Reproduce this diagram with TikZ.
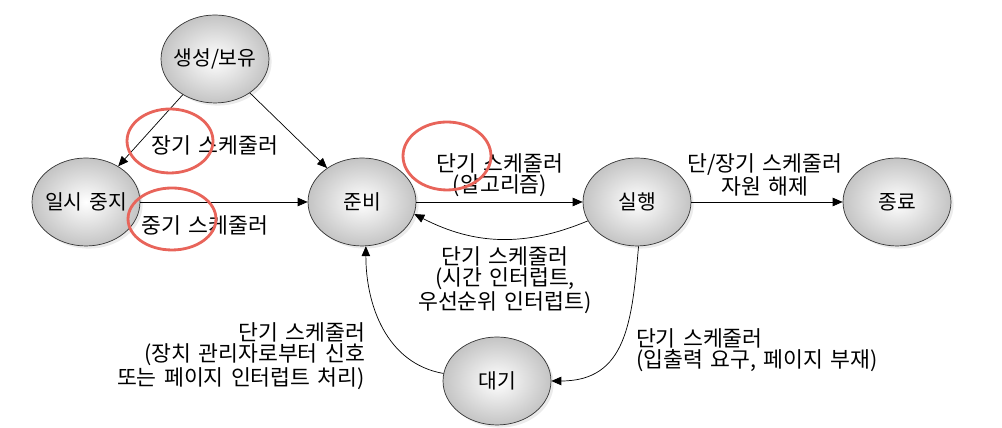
\documentclass[tikz,border=0pt]{standalone}
\usepackage{fontspec}
\setmainfont{Noto Sans CJK KR}
\newfontfamily\lblfont{Noto Sans CJK KR}[WordSpace=1.5]
\usetikzlibrary{positioning,arrows.meta,shapes.geometric,shadows}
\definecolor{HiliteRed}{HTML}{E8645A}
\definecolor{StateGrey}{HTML}{C4C4C4}
\newcommand{\stxt}[1]{\makebox[0pt]{#1}}

\begin{document}
\begin{tikzpicture}[
    x=0.02cm, y=0.02cm,
    font=\lblfont\fontsize{11.6}{12.5}\selectfont,
    state/.style={
      ellipse, draw=black!80, thin, inner sep=0pt,
      inner color=white, outer color=StateGrey,
      minimum width=2.16cm, minimum height=1.76cm,
      drop shadow={shadow xshift=1.5pt, shadow yshift=-1.5pt, fill=gray!35, opacity=0.45}
    },
    lbl/.style={align=center, inner sep=1pt, font=\lblfont\fontsize{12.3}{12.2}\selectfont},
    arrow/.style={-{Triangle[length=2mm,width=1.7mm]}, thin},
    hilite/.style={draw=HiliteRed, line width=1.6pt}
  ]
    \useasboundingbox (0,0) rectangle (1002,428);

    % states
    \node[state] (gen)   at (215,369) {\stxt{생성/보유}};
    \node[state] (susp)  at (86,226)  {\stxt{일시 중지}};
    \node[state] (ready) at (362,226) {\stxt{준비}};
    \node[state] (run)   at (637,226) {\stxt{실행}};
    \node[state] (done)  at (897,226) {\stxt{종료}};
    \node[state] (wait)  at (497,47)  {\stxt{대기}};

    % transitions
    \draw[arrow] (gen) -- (susp);
    \draw[arrow] (gen) -- (ready);
    \draw[arrow] (susp) -- (ready);
    \draw[arrow] (ready) -- (run);
    \draw[arrow] (run) -- (done);
    \draw[arrow] (run.201) to[bend left=25] (ready.-13);
    \draw[arrow] (run.-88) to[out=-95, in=0, looseness=1.2] (wait.east);
    \draw[arrow] (wait.172) to[out=170, in=-90] (ready.-85);

    % labels
    \node[lbl] (lblLong) at (215,283) {장기 스케줄러};
    \node[lbl] (lblMid)  at (205,203) {중기 스케줄러};
    \node[lbl] (lblAlg)  at (500,253) {단기 스케줄러\\(알고리즘)};
    \node[lbl] (lblRel)  at (765,253) {단/장기 스케줄러\\자원 해제};
    \node[lbl] (lblIntr) at (505,148) {단기 스케줄러\\(시간 인터럽트,\\우선순위 인터럽트)};
    \node[lbl, align=left, anchor=west] (lblIo) at (634,78)
      {단기 스케줄러\\(입출력 요구, 페이지 부재)};
    \node[lbl, align=right, anchor=east] (lblDev) at (367,72)
      {단기 스케줄러\\(장치 관리자로부터 신호\\또는 페이지 인터럽트 처리)};

    % red highlights
    \draw[hilite] (170,287) ellipse [x radius=0.86cm, y radius=0.64cm];
    \draw[hilite] (172,209) ellipse [x radius=0.88cm, y radius=0.62cm];
    \draw[hilite] (447,272) ellipse [x radius=0.88cm, y radius=0.68cm];
  \end{tikzpicture}
\end{document}
